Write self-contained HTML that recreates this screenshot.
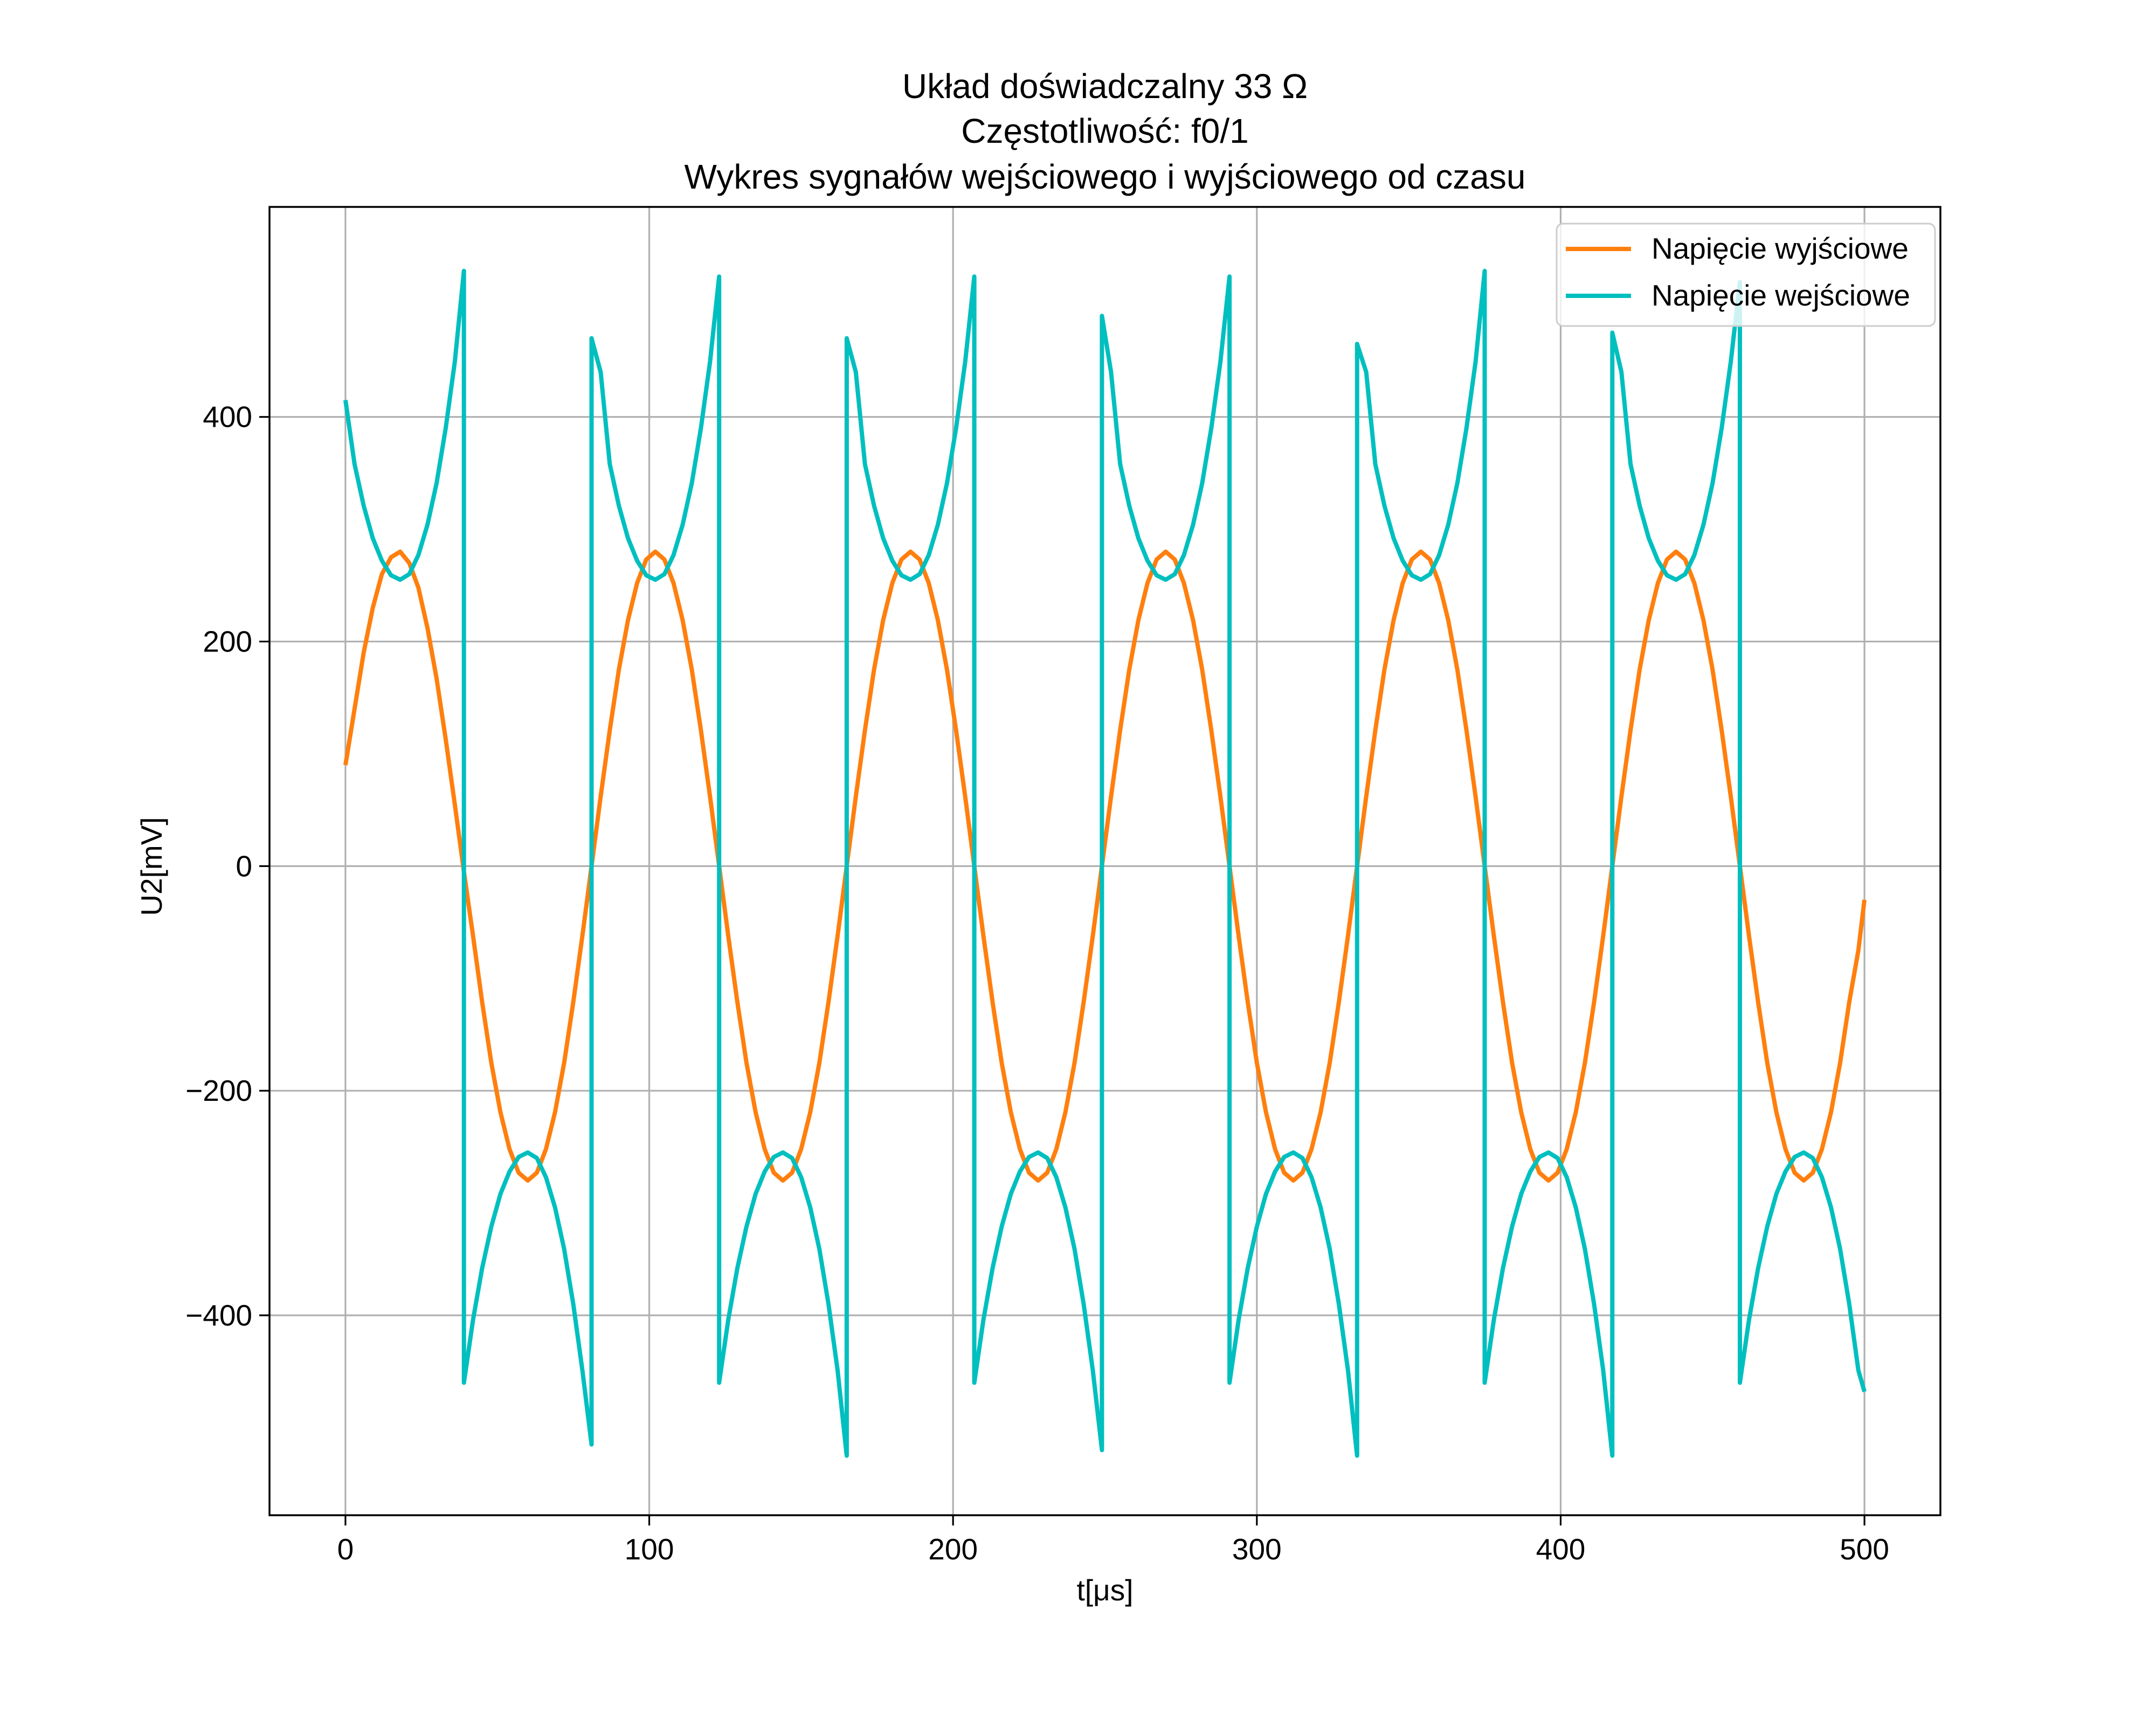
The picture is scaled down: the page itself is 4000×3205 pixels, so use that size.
<!DOCTYPE html>
<html><head><meta charset="utf-8"><style>
html,body{margin:0;padding:0;background:#fff;}
svg text{font-family:"Liberation Sans",sans-serif;fill:#000;}
</style></head><body>
<svg id="chart" width="4000" height="3200" viewBox="0 0 4000 3200" xmlns="http://www.w3.org/2000/svg">
<rect width="4000" height="3200" fill="#fff"/>
<g id="titles" text-anchor="middle" font-size="64">
<text x="2050" y="182">Układ doświadczalny 33 Ω</text>
<text x="2050" y="265">Częstotliwość: f0/1</text>
<text x="2050" y="350">Wykres sygnałów wejściowego i wyjściowego od czasu</text>
</g>
<g id="grid"></g>
<g id="series"></g>
<rect x="500" y="384" width="3100" height="2428" fill="none" stroke="#000" stroke-width="3.5"/>
<g id="ticks"></g>
<text x="2050" y="2970" text-anchor="middle" font-size="55">t[μs]</text>
<text transform="translate(300,1608) rotate(-90)" text-anchor="middle" font-size="55">U2[mV]</text>
<g>
<rect x="2888" y="415" width="702" height="190" rx="12" fill="#fff" fill-opacity="0.8" stroke="#ccc" stroke-width="3"/>
<line x1="2905" y1="462" x2="3026" y2="462" stroke="#ff7f0e" stroke-width="8"/>
<text x="3064" y="480" font-size="55">Napięcie wyjściowe</text>
<line x1="2905" y1="549" x2="3026" y2="549" stroke="#00bfbf" stroke-width="8"/>
<text x="3064" y="567" font-size="55">Napięcie wejściowe</text>
</g>
</svg>
<script>
const xTicks = [0,100,200,300,400,500];
const yTicks = [-400,-200,0,200,400];
const outTimes = [0,3,6,9,12,15,18,21,24,27,30,33,36,39,42,45,48,51,54,57,60,63,66,69,72,75,78,81,84,87,90,93,96,99,102,105,108,111,114,117,120,123,126,129,132,135,138,141,144,147,150,153,156,159,162,165,168,171,174,177,180,183,186,189,192,195,198,201,204,207,210,213,216,219,222,225,228,231,234,237,240,243,246,249,252,255,258,261,264,267,270,273,276,279,282,285,288,291,294,297,300,303,306,309,312,315,318,321,324,327,330,333,336,339,342,345,348,351,354,357,360,363,366,369,372,375,378,381,384,387,390,393,396,399,402,405,408,411,414,417,420,423,426,429,432,435,438,441,444,447,450,453,456,459,462,465,468,471,474,477,480,483,486,489,492,495,498,500];
const outValues = [
90,140,190,230,260,275,280,270,248,212,167,113,55,-5,-62,-121,-175,-219,-252,-273,-280,-273,-252,-219,-175,-121,-62,0,
62,121,175,219,252,273,280,273,252,219,175,121,62,0,-62,-121,-175,-219,-252,-273,-280,-273,-252,-219,-175,-121,-62,0,
62,121,175,219,252,273,280,273,252,219,175,121,62,0,-62,-121,-175,-219,-252,-273,-280,-273,-252,-219,-175,-121,-62,0,
62,121,175,219,252,273,280,273,252,219,175,121,62,0,-62,-121,-175,-219,-252,-273,-280,-273,-252,-219,-175,-121,-62,0,
62,121,175,219,252,273,280,273,252,219,175,121,62,0,-62,-121,-175,-219,-252,-273,-280,-273,-252,-219,-175,-121,-62,0,
62,121,175,219,252,273,280,273,252,219,175,121,62,0,-62,-121,-175,-219,-252,-273,-280,-273,-252,-219,-175,-121,-75,-30];
const inTimes = [
0,3,6,9,12,15,18,21,24,27,30,33,36,39,39,42,45,48,51,54,57,60,63,66,69,72,75,78,81,81,
84,87,90,93,96,99,102,105,108,111,114,117,120,123,123,126,129,132,135,138,141,144,147,150,153,156,159,162,165,165,
168,171,174,177,180,183,186,189,192,195,198,201,204,207,207,210,213,216,219,222,225,228,231,234,237,240,243,246,249,249,
252,255,258,261,264,267,270,273,276,279,282,285,288,291,291,294,297,300,303,306,309,312,315,318,321,324,327,330,333,333,
336,339,342,345,348,351,354,357,360,363,366,369,372,375,375,378,381,384,387,390,393,396,399,402,405,408,411,414,417,417,
420,423,426,429,432,435,438,441,444,447,450,453,456,459,459,462,465,468,471,474,477,480,483,486,489,492,495,498,500];
const inValues = [
415,358,321,292,272,259,255,260,277,304,341,390,449,530,-460,-404,-358,-321,-292,-272,-259,-255,-260,-277,-304,-341,-390,-449,-515,470,
440,358,321,292,272,259,255,260,277,304,341,390,449,525,-460,-404,-358,-321,-292,-272,-259,-255,-260,-277,-304,-341,-390,-449,-525,470,
440,358,321,292,272,259,255,260,277,304,341,390,449,525,-460,-404,-358,-321,-292,-272,-259,-255,-260,-277,-304,-341,-390,-449,-520,490,
440,358,321,292,272,259,255,260,277,304,341,390,449,525,-460,-404,-358,-321,-292,-272,-259,-255,-260,-277,-304,-341,-390,-449,-525,465,
440,358,321,292,272,259,255,260,277,304,341,390,449,530,-460,-404,-358,-321,-292,-272,-259,-255,-260,-277,-304,-341,-390,-449,-525,475,
440,358,321,292,272,259,255,260,277,304,341,390,449,520,-460,-404,-358,-321,-292,-272,-259,-255,-260,-277,-304,-341,-390,-449,-468];

const NS = "http://www.w3.org/2000/svg";
const X0 = 500, X1 = 3600, Y0 = 384, Y1 = 2812;
const xMin = -25, xMax = 525, yMin = -578, yMax = 587;
function xScale(v){ return X0 + (v - xMin) / (xMax - xMin) * (X1 - X0); }
function yScale(v){ return Y1 - (v - yMin) / (yMax - yMin) * (Y1 - Y0); }
function mk(tag, attrs){ const e = document.createElementNS(NS, tag); for (const k in attrs) e.setAttribute(k, attrs[k]); return e; }
const grid = document.getElementById('grid'), ticks = document.getElementById('ticks'), series = document.getElementById('series');
xTicks.forEach(t => {
  const x = xScale(t);
  const g = mk('line', {x1:x, x2:x, y1:Y0, y2:Y1, stroke:'#b0b0b0', 'stroke-width':3.2});
  
  
  grid.appendChild(g);
  const tk = mk('line', {x1:x, x2:x, y1:Y1, y2:Y1+19, stroke:'#000', 'stroke-width':3.2});
  
  
  ticks.appendChild(tk);
  const lb = mk('text', {x:x, y:Y1+82, 'text-anchor':'middle', 'font-size':55});
  
  
  lb.textContent = t;
  ticks.appendChild(lb);
});
yTicks.forEach(t => {
  const y = yScale(t);
  const g = mk('line', {x1:X0, x2:X1, y1:y, y2:y, stroke:'#b0b0b0', 'stroke-width':3.2});
  
  
  grid.appendChild(g);
  const tk = mk('line', {x1:X0-19, x2:X0, y1:y, y2:y, stroke:'#000', 'stroke-width':3.2});
  
  
  ticks.appendChild(tk);
  const lb = mk('text', {x:X0-32, y:y+19, 'text-anchor':'end', 'font-size':55});
  
  
  lb.textContent = t < 0 ? '\u2212' + Math.abs(t) : t;
  ticks.appendChild(lb);
});
function pts(ts, vs){ return ts.map((t,i) => xScale(t).toFixed(1) + ',' + yScale(vs[i]).toFixed(1)).join(' '); }
const outLine = mk('polyline', {points: pts(outTimes, outValues), fill:'none', stroke:'#ff7f0e', 'stroke-width':8, 'stroke-linejoin':'round'});


series.appendChild(outLine);
const inLine = mk('polyline', {points: pts(inTimes, inValues), fill:'none', stroke:'#00bfbf', 'stroke-width':8, 'stroke-linejoin':'round'});


series.appendChild(inLine);
</script>
</body></html>
